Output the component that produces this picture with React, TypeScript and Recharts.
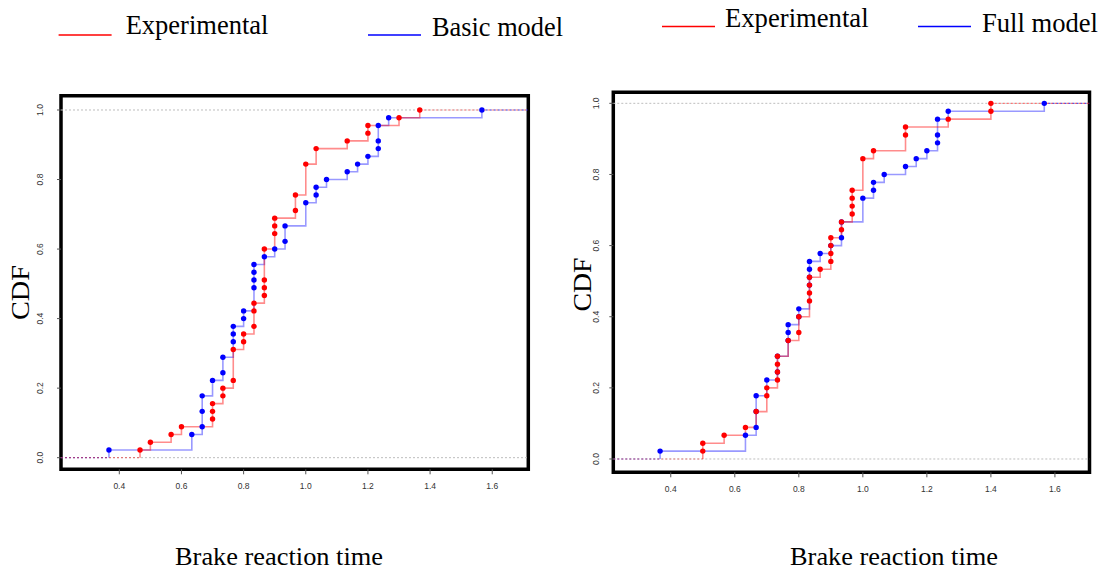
import React from 'react';
import { ComposedChart, Line, Scatter, XAxis, YAxis, ReferenceLine, ReferenceArea } from 'recharts';

const N = 45;
const xTicks = [0.4, 0.6, 0.8, 1.0, 1.2, 1.4, 1.6];
const yTicks = [0, 0.2, 0.4, 0.6, 0.8, 1.0];

// Left panel: Experimental vs Basic model (value, rank out of 45)
const leftExperimentalX = [0.4667, 0.5, 0.5667, 0.6, 0.7, 0.7, 0.7, 0.7333, 0.7333, 0.7667, 0.7667, 0.8, 0.8, 0.8333, 0.8333, 0.8333, 0.8667, 0.8667, 0.8667, 0.8667, 0.9, 0.9, 0.9, 0.9667, 0.9667, 1.0, 1.0333, 1.1333, 1.2, 1.2, 1.3, 1.3667];
const leftExperimentalRank = [1, 2, 3, 4, 5, 6, 7, 8, 9, 10, 14, 15, 16, 17, 19, 20, 21, 22, 23, 27, 29, 30, 31, 32, 34, 38, 40, 41, 42, 43, 44, 45];
const leftBasicX = [0.3667, 0.6333, 0.6667, 0.6667, 0.6667, 0.7, 0.7333, 0.7333, 0.7667, 0.7667, 0.7667, 0.8, 0.8, 0.8333, 0.8333, 0.8333, 0.8333, 0.8667, 0.9, 0.9333, 0.9333, 1.0, 1.0333, 1.0333, 1.0667, 1.1333, 1.1667, 1.2, 1.2333, 1.2333, 1.2333, 1.2667, 1.5667];
const leftBasicRank = [1, 3, 4, 6, 8, 10, 11, 13, 15, 16, 17, 18, 19, 22, 23, 24, 25, 26, 27, 28, 30, 33, 34, 35, 36, 37, 38, 39, 40, 41, 43, 44, 45];

// Right panel: Experimental vs Full model
const rightExperimentalX = [0.5, 0.5, 0.5667, 0.6333, 0.6667, 0.7, 0.7, 0.7333, 0.7333, 0.7333, 0.7333, 0.7667, 0.8, 0.8, 0.8333, 0.8333, 0.8333, 0.8333, 0.8667, 0.9, 0.9, 0.9, 0.9, 0.9333, 0.9333, 0.9667, 0.9667, 0.9667, 0.9667, 1.0, 1.0333, 1.1333, 1.1333, 1.2667, 1.4, 1.4];
const rightExperimentalRank = [1, 2, 3, 4, 6, 8, 9, 10, 11, 12, 13, 15, 16, 18, 20, 21, 22, 23, 24, 25, 26, 27, 28, 29, 30, 31, 32, 33, 34, 38, 39, 41, 42, 43, 44, 45];
const rightFullX = [0.3667, 0.6333, 0.6667, 0.6667, 0.6667, 0.7, 0.7333, 0.7333, 0.7667, 0.7667, 0.7667, 0.8, 0.8, 0.8333, 0.8333, 0.8333, 0.8333, 0.8667, 0.9, 0.9333, 0.9333, 1.0, 1.0333, 1.0333, 1.0667, 1.1333, 1.1667, 1.2, 1.2333, 1.2333, 1.2333, 1.2667, 1.5667];
const rightFullRank = [1, 3, 4, 6, 8, 10, 11, 13, 15, 16, 17, 18, 19, 22, 23, 24, 25, 26, 27, 28, 30, 33, 34, 35, 36, 37, 38, 39, 40, 41, 43, 44, 45];

const RED = '#ff0000';
const BLUE = '#0000ff';
const SERIF = '"Liberation Serif", "Times New Roman", serif';
const SANS = '"Liberation Sans", Arial, sans-serif';

type Pt = { x: number; y: number };
const toPoints = (xs: number[], ranks: number[]): Pt[] => xs.map((x, i) => ({ x, y: ranks[i] / N }));

const RotTick = (props: any) => {
  const { x, y, payload } = props;
  return (
    <text x={x} y={y} transform={`rotate(-90 ${x} ${y})`} textAnchor="middle" dominantBaseline="central" fontSize={8.5} fill="#333" fontFamily={SANS}>
      {Number(payload.value).toFixed(1)}
    </text>
  );
};

const Dot = (color: string) => (p: any) => <circle cx={p.cx} cy={p.cy} r={2.7} fill={color} stroke="none" />;

function Panel(props: {
  expX: number[]; expRank: number[]; modX: number[]; modRank: number[];
  xDomain: [number, number]; yDomain: [number, number];
  width: number; height: number; margin: any; yAxisWidth: number; yGap: number; left: number;
}) {
  const { expX, expRank, modX, modRank, xDomain, yDomain, width, height, margin, yAxisWidth, yGap, left } = props;
  const exp = toPoints(expX, expRank);
  const mod = toPoints(modX, modRank);
  const step = (pts: Pt[]) => [{ x: pts[0].x, y: 0 }, ...pts];
  const lTail = (pts: Pt[]) => [{ x: xDomain[0], y: 0 }, { x: pts[0].x, y: 0 }];
  const rTail = (pts: Pt[]) => [{ x: pts[pts.length - 1].x, y: 1 }, { x: xDomain[1], y: 1 }];
  return (
    <div style={{ position: 'absolute', left, top: 0 }}>
      <ComposedChart width={width} height={height} margin={margin}>
        <XAxis type="number" dataKey="x" domain={xDomain} ticks={xTicks} allowDataOverflow
          tickFormatter={(v: number) => v.toFixed(1)} axisLine={false} tickSize={5} tickMargin={9}
          tick={{ fontSize: 8.5, fill: '#333', fontFamily: SANS }} tickLine={{ stroke: '#555' }} height={30} />
        <YAxis type="number" dataKey="y" domain={yDomain} ticks={yTicks} allowDataOverflow width={yAxisWidth}
          axisLine={false} tickSize={4} tickMargin={yGap - 4} tick={<RotTick />} tickLine={{ stroke: '#555' }} />
        <ReferenceLine y={0} stroke="#bdbdbd" strokeDasharray="2 2" strokeWidth={1} />
        <ReferenceLine y={1} stroke="#bdbdbd" strokeDasharray="2 2" strokeWidth={1} />
        <Line data={lTail(mod)} dataKey="y" stroke={BLUE} strokeOpacity={0.5} strokeDasharray="2 2" strokeWidth={1.2} dot={false} isAnimationActive={false} />
        <Line data={rTail(mod)} dataKey="y" stroke={BLUE} strokeOpacity={0.6} strokeDasharray="2 2" strokeWidth={1.2} dot={false} isAnimationActive={false} />
        <Line data={step(mod)} dataKey="y" type="stepAfter" stroke={BLUE} strokeOpacity={0.4} strokeWidth={1.6} dot={false} isAnimationActive={false} />
        <Line data={lTail(exp)} dataKey="y" stroke={RED} strokeOpacity={0.4} strokeDasharray="2 2" strokeWidth={1.2} dot={false} isAnimationActive={false} />
        <Line data={rTail(exp)} dataKey="y" stroke={RED} strokeOpacity={0.5} strokeDasharray="2 2" strokeWidth={1.2} dot={false} isAnimationActive={false} />
        <Line data={step(exp)} dataKey="y" type="stepAfter" stroke={RED} strokeOpacity={0.45} strokeWidth={1.6} dot={false} isAnimationActive={false} />
        <Scatter data={mod} fill={BLUE} shape={Dot(BLUE)} isAnimationActive={false} />
        <Scatter data={exp} fill={RED} shape={Dot(RED)} isAnimationActive={false} />
        <ReferenceArea x1={xDomain[0]} x2={xDomain[1]} y1={yDomain[0]} y2={yDomain[1]} fill="none" fillOpacity={0} stroke="#000" strokeWidth={3.5} ifOverflow="visible" />
      </ComposedChart>
    </div>
  );
}

export default function App() {
  return (
    <div style={{ position: 'absolute', left: 0, top: 0, width: 1102, height: 573, background: '#fff', overflow: 'hidden' }}>
      <Panel expX={leftExperimentalX} expRank={leftExperimentalRank} modX={leftBasicX} modRank={leftBasicRank}
        xDomain={[0.2124, 1.716]} yDomain={[-0.0334, 1.0411]} width={540} height={573}
        margin={{ top: 95.7, right: 11.7, bottom: 73.7, left: 0 }} yAxisWidth={61} yGap={21} left={0} />
      <Panel expX={rightExperimentalX} expRank={rightExperimentalRank} modX={rightFullX} modRank={rightFullRank}
        xDomain={[0.2205, 1.708]} yDomain={[-0.0374, 1.031]} width={542} height={573}
        margin={{ top: 92.3, right: 12.5, bottom: 70.7, left: 0 }} yAxisWidth={53.3} yGap={17} left={560} />
      <svg width={1102} height={573} style={{ position: 'absolute', left: 0, top: 0, pointerEvents: 'none' }} fontFamily={SERIF}>
        <line x1={58.6} y1={35} x2={111.6} y2={35} stroke={RED} strokeWidth={1.5} />
        <text x={125.7} y={34} fontSize={27} textLength={142.7} lengthAdjust="spacingAndGlyphs" fill="#000">Experimental</text>
        <line x1={368} y1={35} x2={421} y2={35} stroke={BLUE} strokeWidth={1.5} />
        <text x={432} y={36.4} fontSize={27} textLength={131} lengthAdjust="spacingAndGlyphs" fill="#000">Basic model</text>
        <line x1={662} y1={26.5} x2={715} y2={26.5} stroke={RED} strokeWidth={1.5} />
        <text x={725} y={26.5} fontSize={27} textLength={143.6} lengthAdjust="spacingAndGlyphs" fill="#000">Experimental</text>
        <line x1={918} y1={26.5} x2={971} y2={26.5} stroke={BLUE} strokeWidth={1.5} />
        <text x={982} y={31.8} fontSize={27} textLength={116} lengthAdjust="spacingAndGlyphs" fill="#000">Full model</text>
        <text x={20} y={292.5} transform="rotate(-90 20 292.5)" textAnchor="middle" dominantBaseline="central" fontSize={26} textLength={55} lengthAdjust="spacingAndGlyphs" fill="#000">CDF</text>
        <text x={582} y={284.5} transform="rotate(-90 582 284.5)" textAnchor="middle" dominantBaseline="central" fontSize={26} textLength={54} lengthAdjust="spacingAndGlyphs" fill="#000">CDF</text>
        <text x={279} y={565} textAnchor="middle" fontSize={25} textLength={208} lengthAdjust="spacingAndGlyphs" fill="#000">Brake reaction time</text>
        <text x={894} y={565} textAnchor="middle" fontSize={25} textLength={208} lengthAdjust="spacingAndGlyphs" fill="#000">Brake reaction time</text>
      </svg>
    </div>
  );
}
